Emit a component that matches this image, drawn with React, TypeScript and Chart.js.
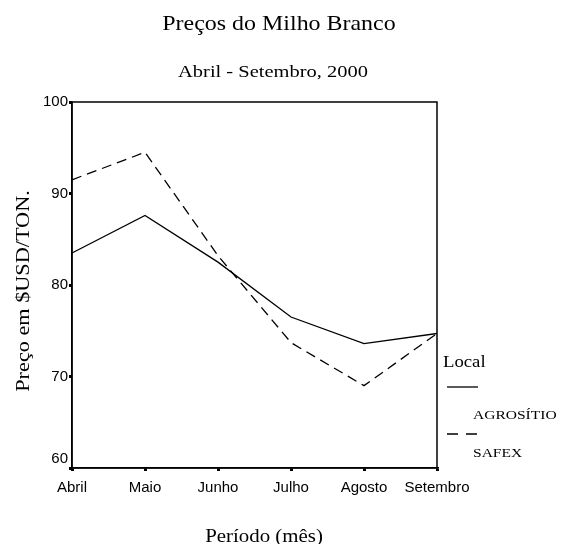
import React, { useEffect, useRef } from "react";
import { Chart, registerables } from "chart.js";

Chart.register(...registerables);

const months = ["Abril", "Maio", "Junho", "Julho", "Agosto", "Setembro"];
const agrositio = [83.5, 87.6, 82.5, 76.5, 73.6, 74.7];
const safex = [91.5, 94.5, 83.2, 73.7, 69.0, 74.7];
const yTicks = [60, 70, 80, 90, 100];

const titleText = "Preços do Milho Branco";
const subtitleText = "Abril - Setembro, 2000";
const yTitle = "Preço em $USD/TON.";
const xTitle = "Período (mês)";
const legendTitle = "Local";
const legendLabels = ["AGROSÍTIO", "SAFEX"];

const SERIF = "'Liberation Serif', 'Times New Roman', serif";
const SANS = "'Liberation Sans', Arial, sans-serif";

function drawText(
  ctx: CanvasRenderingContext2D,
  text: string,
  x: number,
  y: number,
  size: number,
  sx: number,
  align: CanvasTextAlign,
  rotate = 0
) {
  ctx.save();
  ctx.translate(x, y);
  if (rotate) ctx.rotate(rotate);
  ctx.scale(sx, 1);
  ctx.font = `${size}px ${SERIF}`;
  ctx.textAlign = align;
  ctx.textBaseline = "alphabetic";
  ctx.fillStyle = "#000";
  ctx.fillText(text, 0, 0);
  ctx.restore();
}

const decorPlugin = {
  id: "decor",
  afterDraw(chart: any) {
    const { ctx, chartArea } = chart;
    const { left, right, top, bottom } = chartArea;
    ctx.save();
    ctx.strokeStyle = "#000";
    ctx.lineWidth = 1.5;
    ctx.setLineDash([]);
    ctx.strokeRect(left, top, right - left, bottom - top);

    drawText(ctx, titleText, 279, 30, 21, 1.14, "center");
    drawText(ctx, subtitleText, 273, 77, 17.5, 1.17, "center");
    drawText(ctx, xTitle, 264, 542, 18, 1.16, "center");
    drawText(ctx, yTitle, 29, 291, 19.5, 1.14, "center", -Math.PI / 2);

    // legend
    drawText(ctx, legendTitle, 443, 367, 17.5, 1.07, "left");
    ctx.lineWidth = 1.3;
    ctx.beginPath();
    ctx.moveTo(447, 387);
    ctx.lineTo(478, 387);
    ctx.stroke();
    drawText(ctx, legendLabels[0], 473, 419, 13.5, 1.15, "left");
    ctx.setLineDash([11, 8]);
    ctx.beginPath();
    ctx.moveTo(447, 434);
    ctx.lineTo(478, 434);
    ctx.stroke();
    ctx.setLineDash([]);
    drawText(ctx, legendLabels[1], 473, 457, 13.5, 1.15, "left");
    ctx.restore();
  },
};

export default function App() {
  const ref = useRef<HTMLCanvasElement>(null);
  useEffect(() => {
    if (!ref.current) return;
    const chart = new Chart(ref.current, {
      type: "line",
      data: {
        labels: months,
        datasets: [
          {
            label: legendLabels[0],
            data: agrositio,
            borderColor: "#000",
            borderWidth: 1.3,
            pointRadius: 0,
            tension: 0,
          },
          {
            label: legendLabels[1],
            data: safex,
            borderColor: "#000",
            borderWidth: 1.3,
            borderDash: [10, 6],
            pointRadius: 0,
            tension: 0,
          },
        ],
      },
      options: {
        animation: false,
        responsive: false,
        maintainAspectRatio: false,
        layout: { padding: { left: 32, right: 126, top: 102, bottom: 0 } },
        plugins: {
          legend: { display: false },
          title: { display: false },
          tooltip: { enabled: false },
        },
        scales: {
          x: {
            offset: false,
            grid: {
              drawOnChartArea: false,
              tickLength: 3,
              lineWidth: 3,
              color: "#000",
            },
            border: { display: true, color: "#000", width: 1.5 },
            ticks: {
              color: "#000",
              font: { family: SANS, size: 15 },
              padding: 8,
              maxRotation: 0,
              autoSkip: false,
            },
            afterFit(scale: any) {
              scale.height = 76;
            },
          },
          y: {
            min: 60,
            max: 100,
            afterBuildTicks(scale: any) {
              scale.ticks = yTicks.map((v) => ({ value: v }));
            },
            grid: {
              drawOnChartArea: false,
              tickLength: 3,
              lineWidth: 3,
              color: "#000",
            },
            border: { display: true, color: "#000", width: 1.5 },
            ticks: {
              color: "#000",
              font: { family: SANS, size: 15 },
              padding: 1,
              callback: (v: any) => (v === yTicks[0] ? [String(v), ""] : String(v)),
            },
            afterFit(scale: any) {
              scale.width = 40;
            },
          },
        },
      },
      plugins: [decorPlugin],
    });
    return () => chart.destroy();
  }, []);
  return (
    <div style={{ position: "fixed", left: 0, top: 0, width: 563, height: 544 }}>
      <canvas ref={ref} width={563} height={544} />
    </div>
  );
}
